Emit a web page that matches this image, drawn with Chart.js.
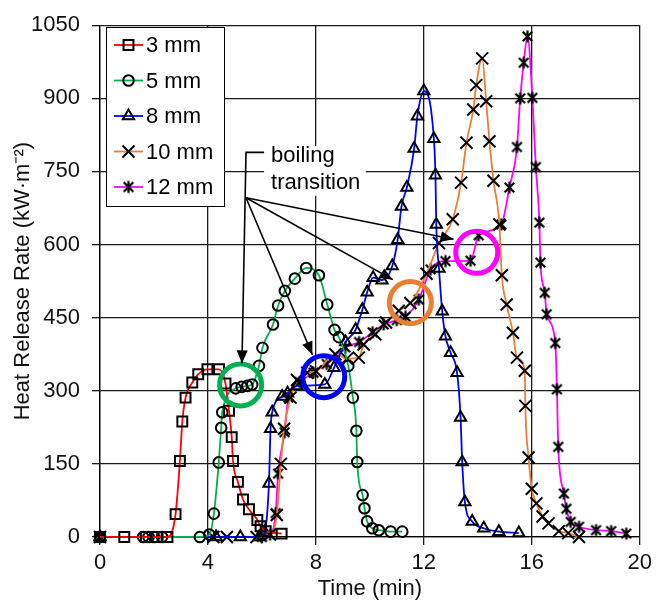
<!DOCTYPE html>
<html>
<head>
<meta charset="utf-8">
<script src="https://cdn.jsdelivr.net/npm/chart.js@4.4.1/dist/chart.umd.min.js"></script>
<style>
  html, body { margin: 0; padding: 0; background: #fff; }
  #wrap { width: 657px; height: 602px; }
</style>
</head>
<body>
<div id="wrap"><canvas id="hrr" width="657" height="602"></canvas></div>
<script>
// time (min) and heat release rate (kW/m2)
const time3 = [0, 0.9, 1.7, 2.1, 2.5, 2.8, 2.96, 3.05, 3.17, 3.42, 3.64, 3.98, 4.41, 4.65, 4.78, 4.88, 4.93, 5.11, 5.30, 5.52, 5.83, 5.95, 6.14, 6.73];
const hrr3 = [0, 0, 0, 0, 0, 47, 156, 237, 286, 317, 334, 344, 344, 315, 259, 205, 156, 113, 77, 57, 35, 22, 12, 7];

const time5 = [0, 1.6, 1.8, 2.0, 2.3, 3.7, 4.05, 4.22, 4.4, 4.49, 4.53, 5.03, 5.25, 5.46, 5.64, 5.89, 6.02, 6.41, 6.6, 6.85, 7.22, 7.64, 8.11, 8.42, 8.69, 8.85, 9.2, 9.37, 9.5, 9.53, 9.73, 9.8, 9.9, 10.09, 10.33, 10.77, 11.2];
const hrr5 = [0, 0, 0, 0, 0, 0, 5, 48, 153, 224, 256, 305, 308, 310, 313, 351, 388, 436, 475, 505, 530, 552, 537, 477, 425, 410, 351, 286, 218, 154, 86, 59, 32, 18, 14, 11, 11];

const time8 = [0, 4.3, 5.2, 5.9, 6.1, 6.26, 6.32, 6.38, 6.75, 6.95, 7.3, 8.33, 8.67, 9.1, 9.47, 9.72, 9.9, 10.12, 10.45, 10.83, 11.03, 11.17, 11.37, 11.64, 11.76, 12.0, 12.37, 12.43, 12.46, 12.56, 12.68, 12.8, 12.99, 13.23, 13.36, 13.42, 13.52, 13.79, 14.22, 14.78, 15.52];
const hrr8 = [0, 0, 0, 0, 10, 110, 222, 256, 288, 295, 310, 313, 347, 400, 425, 466, 502, 532, 527, 556, 610, 678, 717, 797, 863, 915, 817, 742, 641, 551, 463, 412, 378, 337, 245, 154, 72, 32, 18, 11, 8];

const time10 = [0, 4.2, 4.7, 5.8, 6.3, 6.55, 6.7, 6.82, 7.06, 7.3, 7.68, 8.0, 8.72, 9.15, 9.59, 9.77, 10.2, 10.6, 11.07, 11.5, 12.1, 12.56, 13.07, 13.38, 13.58, 13.83, 13.94, 14.16, 14.31, 14.43, 14.58, 14.8, 14.89, 15.07, 15.3, 15.45, 15.74, 15.76, 15.88, 16.0, 16.17, 16.4, 16.62, 17.0, 17.35, 17.75];
const hrr10 = [0, 0, 0, 0, 5, 45, 150, 222, 286, 322, 337, 340, 375, 366, 368, 395, 416, 440, 464, 480, 540, 603, 652, 727, 809, 877, 927, 982, 894, 812, 731, 641, 537, 477, 419, 368, 341, 269, 163, 99, 69, 42, 28, 12, 8, 0];

const time12 = [0, 6.0, 6.3, 6.51, 6.6, 6.84, 6.98, 7.4, 7.91, 8.4, 9.09, 9.6, 10.1, 10.51, 11.0, 11.32, 11.81, 12.25, 12.8, 13.73, 14.03, 14.87, 15.17, 15.45, 15.57, 15.7, 15.84, 16.02, 16.15, 16.28, 16.32, 16.48, 16.55, 16.87, 16.93, 16.98, 17.19, 17.28, 17.44, 17.75, 18.38, 18.94, 19.5];
const hrr12 = [0, 0, 5, 49, 130, 215, 286, 318, 337, 355, 389, 400, 420, 436, 445, 452, 487, 549, 566, 567, 619, 641, 717, 800, 900, 973, 1027, 901, 759, 645, 563, 501, 457, 398, 303, 185, 89, 58, 31, 21, 14, 12, 7];

const seriesLabels = ['3 mm', '5 mm', '8 mm', '10 mm', '12 mm'];
const xTicks = [0, 4, 8, 12, 16, 20];
const yTicks = [0, 150, 300, 450, 600, 750, 900, 1050];

// boiling transition rings: [time, hrr, colour]
const ringSpots = [[5.21, 312, '#00b050'], [8.29, 329, '#0000ff'], [11.5, 481, '#ed7d31'], [13.96, 584, '#ff00ff']];

const FONT = "'Liberation Sans', Arial, sans-serif";
const lineColors = ['#ff0000', '#00b050', '#0000ff', '#ed7d31', '#ff00ff'];

function asterisk(size) {
  const c = document.createElement('canvas');
  c.width = size; c.height = size;
  const g = c.getContext('2d');
  const m = size / 2, a = size / 2 - 1.5;
  g.strokeStyle = '#000';
  g.lineWidth = 2.2;
  g.beginPath();
  g.moveTo(m - a * 0.8, m - a * 0.8); g.lineTo(m + a * 0.8, m + a * 0.8);
  g.moveTo(m + a * 0.8, m - a * 0.8); g.lineTo(m - a * 0.8, m + a * 0.8);
  g.moveTo(m, m - a); g.lineTo(m, m + a);
  g.stroke();
  return c;
}

const markerStyles = ['rect', 'circle', 'triangle', 'crossRot', asterisk(15)];
const markerRadius = [7, 5.3, 6.5, 8.5, 7];

function pts(t, v) { return t.map((x, i) => ({ x: x, y: v[i] })); }
const allSeries = [pts(time3, hrr3), pts(time5, hrr5), pts(time8, hrr8), pts(time10, hrr10), pts(time12, hrr12)];

const datasets = allSeries.map((d, i) => ({
  label: seriesLabels[i],
  data: d,
  showLine: true,
  borderColor: lineColors[i],
  borderWidth: 1.8,
  cubicInterpolationMode: 'monotone',
  pointStyle: markerStyles[i],
  pointRadius: markerRadius[i],
  pointBorderColor: '#000',
  pointBackgroundColor: 'rgba(0,0,0,0)',
  pointBorderWidth: 2,
  clip: 12
}));

function arrowHead(ctx, fx, fy, tx, ty) {
  const ang = Math.atan2(ty - fy, tx - fx);
  const len = 13, half = 5.5;
  ctx.beginPath();
  ctx.moveTo(tx, ty);
  ctx.lineTo(tx - len * Math.cos(ang) + half * Math.sin(ang), ty - len * Math.sin(ang) - half * Math.cos(ang));
  ctx.lineTo(tx - len * Math.cos(ang) - half * Math.sin(ang), ty - len * Math.sin(ang) + half * Math.cos(ang));
  ctx.closePath();
  ctx.fill();
}

const annotate = {
  id: 'annotate',
  afterDatasetsDraw(chart) {
    const { ctx, scales: { x, y } } = chart;
    ctx.save();
    // rings
    ringSpots.forEach(([t, v, c]) => {
      ctx.beginPath();
      ctx.strokeStyle = c;
      ctx.lineWidth = 5;
      ctx.arc(x.getPixelForValue(t), y.getPixelForValue(v), 21, 0, Math.PI * 2);
      ctx.stroke();
    });
    // label box
    const bx0 = x.getPixelForValue(6.08), bx1 = x.getPixelForValue(9.85);
    const by0 = y.getPixelForValue(802), by1 = y.getPixelForValue(700);
    ctx.fillStyle = '#fff';
    ctx.fillRect(bx0, by0, bx1 - bx0, by1 - by0);
    ctx.fillStyle = '#000';
    ctx.font = '22px ' + FONT;
    ctx.textBaseline = 'middle';
    ctx.textAlign = 'left';
    ctx.fillText('boiling', bx0 + 7, by0 + 10);
    ctx.fillText('transition', bx0 + 7, by0 + 37);
    // arrows
    ctx.strokeStyle = '#000';
    ctx.lineWidth = 1.6;
    const ox = x.getPixelForValue(5.41), oy = y.getPixelForValue(696);
    const topY = y.getPixelForValue(789);
    const gx = x.getPixelForValue(5.26), gy = y.getPixelForValue(356);
    ctx.beginPath();
    ctx.moveTo(bx0, topY);
    ctx.lineTo(ox, topY);
    ctx.lineTo(gx, gy);
    ctx.stroke();
    arrowHead(ctx, ox, topY, gx, gy);
    const tips = [[7.87, 374], [10.85, 528], [13.1, 611]];
    tips.forEach(([t, v]) => {
      const tx = x.getPixelForValue(t), ty = y.getPixelForValue(v);
      ctx.beginPath();
      ctx.moveTo(ox, oy);
      ctx.lineTo(tx, ty);
      ctx.stroke();
      arrowHead(ctx, ox, oy, tx, ty);
    });
    ctx.restore();
  },
  afterDraw(chart) {
    // legend inside plot, Excel style: line through marker
    const ctx = chart.ctx;
    ctx.save();
    ctx.fillStyle = '#fff';
    ctx.fillRect(106, 27, 118, 179);
    ctx.strokeStyle = '#000';
    ctx.lineWidth = 1;
    ctx.strokeRect(106.5, 27.5, 118, 179);
    ctx.font = '22px ' + FONT;
    ctx.textBaseline = 'middle';
    ctx.textAlign = 'left';
    seriesLabels.forEach((lab, i) => {
      const cy = 45 + i * 35.5;
      ctx.strokeStyle = lineColors[i];
      ctx.lineWidth = 1.8;
      ctx.beginPath();
      ctx.moveTo(114, cy);
      ctx.lineTo(143, cy);
      ctx.stroke();
      ctx.strokeStyle = '#000';
      ctx.fillStyle = 'rgba(0,0,0,0)';
      ctx.lineWidth = 2;
      Chart.helpers.drawPoint(ctx, {
        pointStyle: markerStyles[i], radius: markerRadius[i], borderWidth: 2, rotation: 0
      }, 128.5, cy);
      ctx.fillStyle = '#000';
      ctx.fillText(lab, 146, cy + 1);
    });
    ctx.restore();
  }
};

const tickFont = { family: FONT, size: 22 };

new Chart(document.getElementById('hrr'), {
  type: 'scatter',
  data: { datasets: datasets },
  plugins: [annotate],
  options: {
    responsive: false,
    animation: false,
    devicePixelRatio: 1,
    layout: { padding: { top: 21, right: 15, left: 0, bottom: 0 } },
    plugins: { legend: { display: false }, tooltip: { enabled: false } },
    scales: {
      x: {
        type: 'linear', min: 0, max: 20,
        afterFit: s => { s.height = 65; },
        afterBuildTicks: s => { s.ticks = xTicks.map(v => ({ value: v })); },
        grid: { color: '#1a1a1a', lineWidth: 1.3, tickLength: 8 },
        border: { color: '#000', width: 1.3 },
        ticks: { font: tickFont, color: '#111', padding: 5, maxRotation: 0, callback: v => String(v) },
        title: { display: true, text: 'Time (min)', font: tickFont, color: '#111', padding: 0 }
      },
      y: {
        type: 'linear', min: 0, max: 1050,
        afterFit: s => { s.width = 100; },
        afterBuildTicks: s => { s.ticks = yTicks.map(v => ({ value: v })); },
        grid: { color: '#1a1a1a', lineWidth: 1.3, tickLength: 8 },
        border: { color: '#000', width: 1.3 },
        ticks: { font: tickFont, color: '#111', padding: 12, callback: v => String(v) },
        title: { display: true, text: 'Heat Release Rate (kW\u00b7m\u207b\u00b2)', font: tickFont, color: '#111', padding: { top: 10, bottom: 0 } }
      }
    }
  }
});
</script>
</body>
</html>
